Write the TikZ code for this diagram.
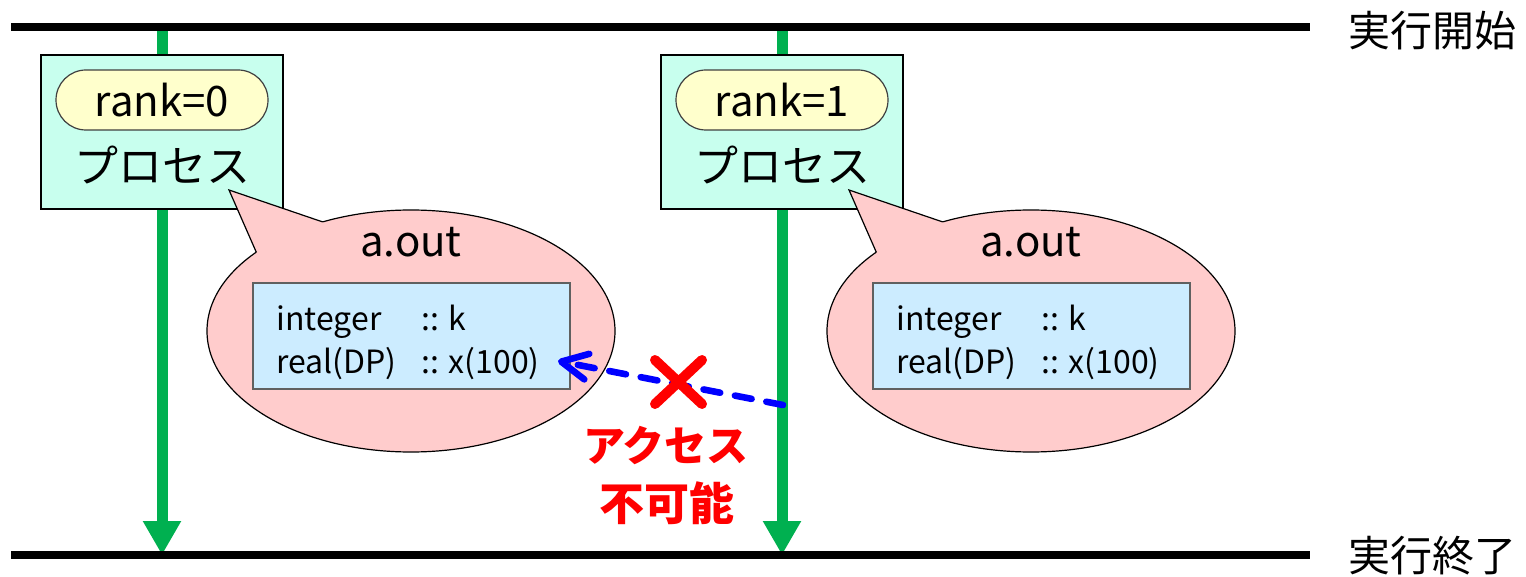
\documentclass[tikz,border=0pt]{standalone}
\usepackage{fontspec}
\setmainfont{Noto Sans CJK JP}
\usetikzlibrary{arrows.meta,shapes.geometric}
\definecolor{flowgreen}{HTML}{00B050}
\definecolor{procfill}{HTML}{C8FFEE}
\definecolor{pillfill}{HTML}{FFFFCC}
\definecolor{pillborder}{HTML}{404040}
\definecolor{bubblefill}{HTML}{FFCCCC}
\definecolor{codefill}{HTML}{CCECFF}
\definecolor{codeborder}{HTML}{606060}
\definecolor{accessblue}{HTML}{0000FF}
\definecolor{denyred}{HTML}{FF0000}
\begin{document}
\begin{tikzpicture}[x=0.5pt,y=-0.5pt,
  timeline/.style={line width=4pt,black},
  flow/.style={line width=5.5pt,draw=flowgreen,-{Triangle[length=17pt,width=18pt]}},
  procbox/.style={draw=black,line width=0.8pt,fill=procfill,minimum width=121pt,minimum height=77pt,inner sep=0pt,outer sep=0pt},
  rankpill/.style={draw=pillborder,line width=0.6pt,fill=pillfill,rounded corners=15pt,minimum width=106pt,minimum height=30pt,inner sep=0pt,font=\fontsize{21pt}{24pt}\selectfont},
  proctext/.style={inner sep=0pt,font=\fontsize{22pt}{26pt}\selectfont},
  bubble/.style={ellipse,draw=black,line width=0.6pt,fill=bubblefill,minimum width=204pt,minimum height=121pt,inner sep=0pt,outer sep=0pt},
  bubbletitle/.style={inner sep=0pt,font=\fontsize{21pt}{25pt}\selectfont},
  codebox/.style={draw=codeborder,line width=0.6pt,fill=codefill,minimum width=158.5pt,minimum height=53pt,inner sep=0pt,outer sep=0pt},
  codetext/.style={inner sep=0pt,anchor=base west,font=\fontsize{16pt}{19pt}\selectfont},
  phase/.style={inner sep=0pt,font=\fontsize{21pt}{25pt}\selectfont},
  access/.style={line width=3.3pt,draw=accessblue,dash pattern=on 8.5pt off 7.5pt,line cap=round,
    -{Straight Barb[length=13pt,width=13pt,line cap=round,line join=round]}},
  denymark/.style={line width=5pt,draw=denyred,line cap=round},
  denytext/.style={inner sep=0pt,text=denyred,font=\fontsize{21pt}{24pt}\selectfont\bfseries},
  denytextb/.style={denytext,font=\fontsize{22.5pt}{26pt}\selectfont\bfseries},
]
\useasboundingbox (0,0) rectangle (1526,577);

% start / end of execution
\coordinate (startL) at (11,27);
\coordinate (startR) at (1310,27);
\coordinate (endL) at (11,555);
\coordinate (endR) at (1310,555);

% process flows (drawn first so the time lines sit on top)
\foreach \r/\x in {0/162,1/782}{
  \coordinate (top\r) at (\x,31);
  \coordinate (bot\r) at (\x,555);
  \draw[flow] (top\r) -- (bot\r);
}

\draw[timeline] (startL) -- (startR);
\draw[timeline] (endL) -- (endR);
\node[phase] (startlbl) at (1432,31) {実行開始};
\node[phase] (endlbl) at (1432,556) {実行終了};

% processes with their executables
\foreach \r/\x in {0/162,1/782}{
  \node[procbox] (proc\r) at (\x,132) {};
  \node[rankpill] (rank\r) at (\x,100) {rank=\r};
  \node[proctext] (ptext\r) at (\x,165) {プロセス};
  % speech bubble
  \node[bubble] (bub\r) at (\x+249,331) {};
  \coordinate (tip\r) at (\x+67,190);
  \fill[bubblefill] (tip\r) -- (bub\r.129) -- (bub\r.center) -- (bub\r.153) -- cycle;
  \draw[line width=0.6pt,line join=miter] (bub\r.129) -- (tip\r) -- (bub\r.153);
  \node[bubbletitle] (title\r) at (\x+249,242) {a.out};
  \node[codebox] (code\r) at (\x+249.5,336) {};
  \node[codetext] (decl\r) at (\x+114,330) {integer};
  \node[codetext] (declv\r) at (\x+259,330) {:: k};
  \node[codetext] (arr\r) at (\x+114,373) {real(DP)};
  \node[codetext] (arrv\r) at (\x+259,373) {:: x(100)};
}

% access from rank 1 into the memory of rank 0 is not possible
\coordinate (from1) at (783,405);
\coordinate (hit0) at (558,361);
\draw[access] (from1) -- (hit0);
\coordinate (xa) at (655,360);
\coordinate (xb) at (702,404);
\coordinate (xc) at (702,360);
\coordinate (xd) at (655,404);
\draw[denymark] (xa) -- (xb);
\draw[denymark] (xc) -- (xd);
\node[denytext] (deny1) at (666,445) {アクセス};
\node[denytextb] (deny2) at (667,503) {不可能};
\end{tikzpicture}
\end{document}
